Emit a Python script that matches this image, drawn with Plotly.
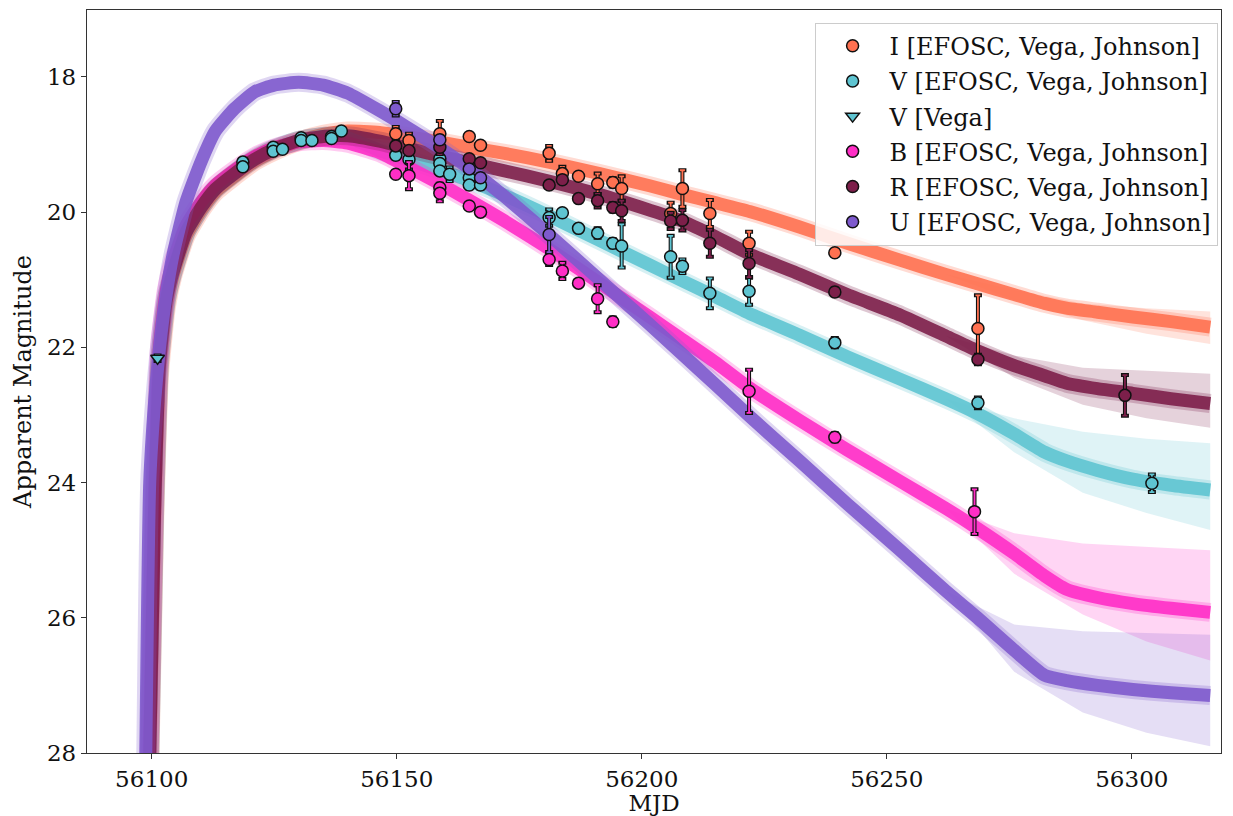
import plotly.graph_objects as go

# ---------------- observed photometry ----------------
I_mjd = [56149.8, 56152.5, 56158.8, 56164.8, 56167.1, 56181.1, 56183.8, 56187.1, 56191.0, 56194.1,
         56195.9, 56205.9, 56208.3, 56213.9, 56221.9, 56239.4, 56268.6]
I_mag = [18.84, 18.94, 18.84, 18.88, 19.01, 19.13, 19.43, 19.47, 19.58, 19.56,
         19.65, 20.02, 19.65, 20.02, 20.46, 20.60, 21.72]
I_err = [0.10, 0.10, 0.19, 0.03, 0.03, 0.11, 0.10, 0.03, 0.15, 0.06,
         0.18, 0.16, 0.27, 0.20, 0.17, 0.04, 0.49]

V_mjd = [56118.6, 56118.6, 56124.8, 56124.8, 56126.7, 56130.5, 56130.5, 56132.7, 56136.7, 56136.7,
         56138.7, 56149.8, 56152.5, 56158.8, 56158.8, 56158.8, 56160.8, 56164.8, 56164.8, 56167.1,
         56181.1, 56183.8, 56187.1, 56191.0, 56194.1, 56195.9, 56205.9, 56208.3, 56213.9, 56221.9,
         56239.4, 56268.6, 56304.1]
V_mag = [19.26, 19.33, 19.04, 19.10, 19.07, 18.90, 18.94, 18.94, 18.88, 18.91,
         18.80, 19.16, 19.22, 19.21, 19.28, 19.39, 19.44, 19.49, 19.60, 19.60,
         20.08, 20.01, 20.24, 20.31, 20.46, 20.50, 20.66, 20.80, 21.20, 21.17,
         21.93, 22.82, 24.01]
V_err = [0.03, 0.03, 0.03, 0.03, 0.03, 0.03, 0.03, 0.03, 0.03, 0.03,
         0.04, 0.05, 0.15, 0.05, 0.05, 0.05, 0.10, 0.05, 0.05, 0.05,
         0.12, 0.04, 0.04, 0.07, 0.06, 0.32, 0.31, 0.10, 0.22, 0.20,
         0.07, 0.08, 0.13]

Vv_mjd = [56101.2]
Vv_mag = [22.16]
Vv_err = [0.04]

B_mjd = [56149.8, 56152.5, 56158.8, 56158.8, 56164.8, 56167.1, 56181.1, 56183.8, 56187.1, 56191.0,
         56194.1, 56221.9, 56239.4, 56267.9]
B_mag = [19.44, 19.46, 19.64, 19.72, 19.91, 20.00, 20.70, 20.87, 21.05, 21.28,
         21.62, 22.65, 23.33, 24.43]
B_err = [0.03, 0.20, 0.06, 0.12, 0.03, 0.03, 0.08, 0.12, 0.03, 0.20,
         0.06, 0.32, 0.06, 0.33]

R_mjd = [56149.8, 56152.5, 56158.8, 56164.8, 56167.1, 56181.1, 56183.8, 56187.1, 56191.0, 56194.1,
         56195.9, 56205.9, 56208.3, 56213.9, 56221.9, 56239.4, 56268.6, 56298.6]
R_mag = [19.02, 19.09, 19.04, 19.21, 19.27, 19.60, 19.52, 19.80, 19.83, 19.93,
         19.98, 20.13, 20.12, 20.46, 20.76, 21.18, 22.18, 22.71]
R_err = [0.04, 0.05, 0.10, 0.04, 0.04, 0.04, 0.05, 0.04, 0.10, 0.06,
         0.15, 0.12, 0.15, 0.20, 0.20, 0.05, 0.07, 0.30]

U_mjd = [56149.8, 56158.8, 56164.8, 56167.1, 56181.1]
U_mag = [18.47, 18.93, 19.36, 19.49, 20.33]
U_err = [0.10, 0.05, 0.05, 0.05, 0.26]

# ---------------- model light curves ----------------
model_mjd = [56098.5, 56099.6, 56100.6, 56101.6, 56103.0, 56104.3, 56107.0, 56110.1, 56113.0, 56116.9,
             56121.0, 56125.0, 56130.0, 56135.0, 56140.0, 56146.5, 56152.0, 56158.8, 56164.7, 56172.0,
             56181.0, 56191.4, 56201.6, 56207.8, 56215.0, 56222.0, 56232.2, 56242.0, 56252.7, 56262.0,
             56268.5, 56276.0, 56282.2, 56286.7, 56293.0, 56300.2, 56308.0, 56316.0]
model_I = [30.5, 28.2, 24.6, 22.4, 21.4, 20.95, 20.35, 19.97, 19.70, 19.47,
           19.25, 19.10, 18.95, 18.85, 18.80, 18.82, 18.88, 18.96, 19.04, 19.13,
           19.26, 19.43, 19.61, 19.73, 19.86, 19.99, 20.22, 20.46, 20.71, 20.92,
           21.06, 21.22, 21.35, 21.42, 21.48, 21.55, 21.62, 21.70]
model_V = [30.5, 28.1, 24.4, 22.2, 21.3, 20.9, 20.3, 19.92, 19.65, 19.42,
           19.20, 19.06, 18.94, 18.88, 18.90, 19.09, 19.22, 19.38, 19.53, 19.75,
           20.05, 20.42, 20.78, 21.00, 21.25, 21.50, 21.82, 22.14, 22.47, 22.76,
           22.98, 23.28, 23.55, 23.68, 23.82, 23.95, 24.04, 24.11]
model_B = [30.5, 27.6, 24.0, 22.0, 21.15, 20.75, 20.2, 19.85, 19.60, 19.38,
           19.18, 19.05, 18.96, 18.94, 18.98, 19.12, 19.32, 19.58, 19.82, 20.13,
           20.54, 21.05, 21.55, 21.86, 22.22, 22.60, 23.08, 23.52, 23.98, 24.38,
           24.68, 25.05, 25.38, 25.58, 25.70, 25.79, 25.86, 25.92]
model_R = [30.5, 28.0, 24.4, 22.25, 21.3, 20.9, 20.3, 19.93, 19.66, 19.43,
           19.22, 19.07, 18.94, 18.88, 18.87, 18.95, 19.05, 19.17, 19.27, 19.39,
           19.54, 19.74, 19.97, 20.12, 20.36, 20.62, 20.92, 21.22, 21.52, 21.83,
           22.05, 22.27, 22.42, 22.53, 22.61, 22.68, 22.76, 22.83]
model_U = [30.0, 24.0, 22.8, 22.0, 21.2, 20.65, 19.85, 19.25, 18.80, 18.47,
           18.22, 18.12, 18.08, 18.12, 18.24, 18.50, 18.74, 19.05, 19.35, 19.77,
           20.33, 21.00, 21.66, 22.07, 22.55, 23.02, 23.68, 24.32, 25.00, 25.60,
           26.00, 26.48, 26.85, 26.93, 27.00, 27.06, 27.11, 27.15]

# late-time spread of the model samples (bright / faint envelope)
env_mjd = [56262.0, 56276.0, 56290.0, 56303.0, 56316.0]
env_I_lo = [20.92, 21.15, 21.35, 21.42, 21.47]
env_I_hi = [20.92, 21.30, 21.60, 21.80, 21.95]
env_V_lo = [22.76, 23.05, 23.25, 23.35, 23.42]
env_V_hi = [22.76, 23.55, 24.15, 24.45, 24.70]
env_B_lo = [24.38, 24.75, 24.90, 24.95, 25.00]
env_B_hi = [24.38, 25.35, 25.95, 26.35, 26.63]
env_R_lo = [21.83, 22.12, 22.30, 22.35, 22.39]
env_R_hi = [21.83, 22.45, 22.85, 23.05, 23.19]
env_U_lo = [25.60, 26.10, 26.20, 26.22, 26.25]
env_U_hi = [25.60, 26.80, 27.40, 27.70, 27.90]

x_ticks = [56100, 56150, 56200, 56250, 56300]
y_ticks = [18, 20, 22, 24, 26, 28]

C_I = "#ff7151"
C_V = "#5ec4d1"
C_B = "#ff2ec6"
C_R = "#7d1f4a"
C_U = "#7e5acd"

FONT = "DejaVu Serif"


def rgba(hex_color, a):
    h = hex_color.lstrip("#")
    r, g, b = int(h[0:2], 16), int(h[2:4], 16), int(h[4:6], 16)
    return f"rgba({r},{g},{b},{a})"


fig = go.Figure()

# model envelopes + bands (order I, V, B, R, U)
models = [
    (model_I, C_I, env_I_lo, env_I_hi),
    (model_V, C_V, env_V_lo, env_V_hi),
    (model_B, C_B, env_B_lo, env_B_hi),
    (model_R, C_R, env_R_lo, env_R_hi),
    (model_U, C_U, env_U_lo, env_U_hi),
]
for mags, col, lo, hi in models:
    fig.add_trace(go.Scatter(
        x=env_mjd + env_mjd[::-1], y=lo + hi[::-1], mode="lines", fill="toself",
        fillcolor=rgba(col, 0.2), line=dict(width=0), hoverinfo="skip", showlegend=False))
    fig.add_trace(go.Scatter(
        x=model_mjd, y=mags, mode="lines",
        line=dict(color=rgba(col, 0.25), width=19, shape="spline", smoothing=0.5),
        hoverinfo="skip", showlegend=False))
    fig.add_trace(go.Scatter(
        x=model_mjd, y=mags, mode="lines",
        line=dict(color=rgba(col, 0.9), width=13, shape="spline", smoothing=0.5),
        hoverinfo="skip", showlegend=False))

# observed points
obs = [
    ("I [EFOSC, Vega, Johnson]", I_mjd, I_mag, I_err, C_I, "circle"),
    ("V [EFOSC, Vega, Johnson]", V_mjd, V_mag, V_err, C_V, "circle"),
    ("V [Vega]", Vv_mjd, Vv_mag, Vv_err, C_V, "triangle-down"),
    ("B [EFOSC, Vega, Johnson]", B_mjd, B_mag, B_err, C_B, "circle"),
    ("R [EFOSC, Vega, Johnson]", R_mjd, R_mag, R_err, C_R, "circle"),
    ("U [EFOSC, Vega, Johnson]", U_mjd, U_mag, U_err, C_U, "circle"),
]
for k, (name, xs, ys, es, col, sym) in enumerate(obs):
    # black outline of error bars
    fig.add_trace(go.Scatter(
        x=xs, y=ys, mode="markers", marker=dict(size=1, color="rgba(0,0,0,0)"),
        error_y=dict(type="data", array=es, visible=True, color="#111111", thickness=4, width=4),
        hoverinfo="skip", showlegend=False, legendgroup=f"g{k}"))
    fig.add_trace(go.Scatter(
        x=xs, y=ys, mode="markers", name=name, legendgroup=f"g{k}",
        marker=dict(size=12, color=col, symbol=sym,
                    line=dict(color="#111111", width=1.5)),
        error_y=dict(type="data", array=es, visible=True, color=col, thickness=1.8, width=2.5),
    ))

axis_common = dict(
    showline=True, mirror=True, linecolor="#333333", linewidth=1.3,
    ticks="outside", ticklen=5, tickwidth=1.2, tickcolor="#333333",
    showgrid=False, zeroline=False, automargin=False,
    tickfont=dict(family=FONT, size=23, color="#111111"),
)

# page body has an 8px margin: div is placed at (8, 8)
fig.update_layout(
    width=1225, height=808,
    margin=dict(l=79, r=12, t=2, b=63),
    paper_bgcolor="white", plot_bgcolor="white",
    font=dict(family=FONT, size=23, color="#111111"),
    xaxis=dict(range=[56086.8, 56318.2], tickvals=x_ticks, ticktext=[str(v) for v in x_ticks],
               title=dict(text="MJD", font=dict(family=FONT, size=23), standoff=6), **axis_common),
    yaxis=dict(range=[28, 17.01], tickvals=y_ticks, ticktext=[str(v) for v in y_ticks],
               title=dict(text="Apparent Magnitude", font=dict(family=FONT, size=24), standoff=8),
               **axis_common),
    legend=dict(x=0.997, y=0.983, xanchor="right", yanchor="top",
                bgcolor="rgba(255,255,255,0.85)", bordercolor="#cccccc", borderwidth=1,
                font=dict(family=FONT, size=24, color="#111111"),
                itemwidth=64, tracegroupgap=1, traceorder="grouped"),
    showlegend=True,
)

fig.write_html("out.html")
